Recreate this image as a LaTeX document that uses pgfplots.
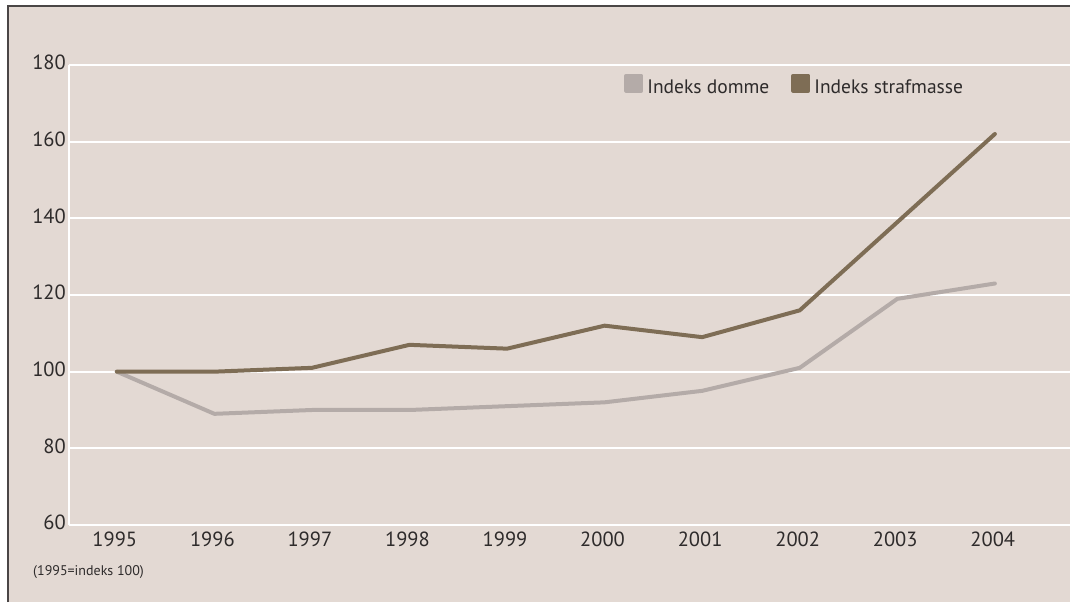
\documentclass[border=0pt]{standalone}
\usepackage{pgfplots}
\pgfplotsset{compat=1.18}
\usepackage{fontspec}
\setmainfont{PT Sans}
\definecolor{bg}{HTML}{E3D9D3}
\definecolor{bordercol}{HTML}{4A4646}
\definecolor{darkline}{HTML}{7E6D55}
\definecolor{lightline}{HTML}{B4ABA8}
\definecolor{txt}{HTML}{2E2B2B}
\begin{document}
\begin{tikzpicture}[x=1pt,y=1pt]
\useasboundingbox (0,0) rectangle (1070,602);
\fill[white] (0,0) rectangle (1070,602);
\fill[bg] (8,0) rectangle (1070,596);
\draw[bordercol, line width=2pt] (8,0) -- (8,596) -- (1070,596);
\begin{axis}[
  at={(69pt,77pt)}, anchor=south west,
  scale only axis, width=1001pt, height=460pt,
  xmin=1994.51, xmax=2004.77, ymin=60, ymax=180,
  ytick={60,80,...,180}, xtick={1995,...,2004},
  axis lines*=left,
  axis line style={white, line width=2pt, -},
  ymajorgrids, grid style={white, line width=2pt},
  major tick length=0pt,
  /pgf/number format/assume math mode=true,
  /pgf/number format/1000 sep={},
  tick label style={font=\fontsize{20.5}{24}\selectfont, text=txt},
  yticklabel style={inner sep=0pt, anchor=base east, xshift=-3pt, yshift=-5pt},
  xticklabel style={inner sep=0pt, anchor=base, yshift=-21.5pt, xshift=-2pt},
  clip=false,
  legend columns=2,
  legend style={draw=none, fill=none, inner sep=0pt, at={(axis cs:2000.2,174.1)}, anchor=base west,
    font=\fontsize{19.5}{23}\selectfont, text=txt,
    /tikz/every odd column/.append style={column sep=2pt},
    /tikz/every even column/.append style={column sep=20pt}},
  legend image code/.code={\fill[#1] (0pt,-3pt) rectangle (15pt,12pt);},
  legend cell align=left,
]
\addplot[color=lightline, line width=4pt, line join=round, line cap=round] coordinates {
 (1995,100) (1996,89) (1997,90) (1998,90) (1999,91) (2000,92) (2001,95) (2002,101) (2003,119) (2004,123)};
\addlegendentry{Indeks domme}
\addplot[color=darkline, line width=4pt, line join=round, line cap=round] coordinates {
 (1995,100) (1996,100) (1997,101) (1998,107) (1999,106) (2000,112) (2001,109) (2002,116) (2003,139) (2004,162)};
\addlegendentry{Indeks strafmasse}
\end{axis}
\node[anchor=base west, inner sep=0pt, text=txt, font=\fontsize{14}{17}\selectfont] at (33,27) {(1995=indeks 100)};
\end{tikzpicture}
\end{document}
